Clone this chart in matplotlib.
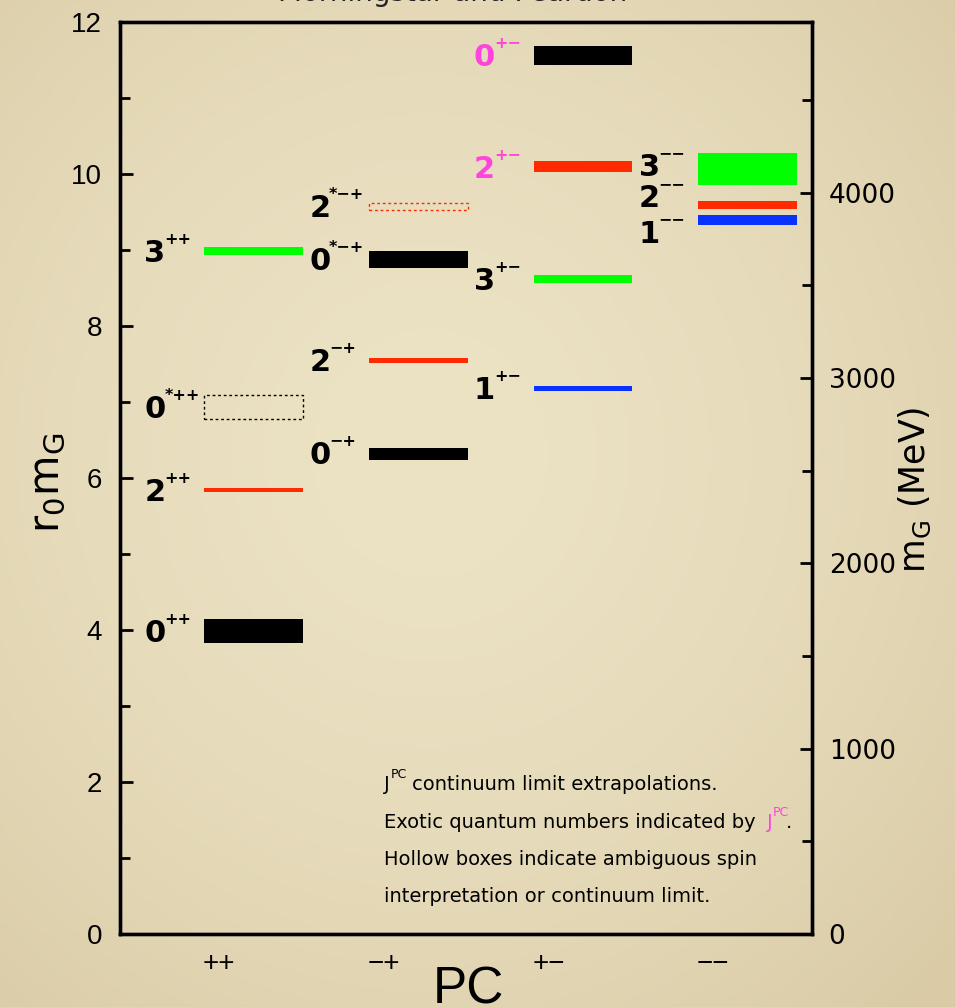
import matplotlib
matplotlib.use("Agg")
import matplotlib.pyplot as plt
import matplotlib.transforms as mtransforms
from matplotlib.ticker import MultipleLocator
import numpy as np

plt.rcParams["font.family"] = ["DejaVu Sans"]
plt.rcParams["mathtext.fontset"] = "dejavusans"

# ---------------- data ----------------
pc_labels = ["++", "\u2212+", "+\u2212", "\u2212\u2212"]

# glueball states: PC column, spin J, extra superscript mark, r0*m and its half-height
state_col = [0, 0, 0, 0, 1, 1, 1, 1, 2, 2, 2, 2, 3, 3, 3]
state_J = ["0", "2", "0", "3", "0", "2", "0", "2", "1", "3", "2", "0", "1", "2", "3"]
state_star = [False, False, True, False, False, False, True, True,
              False, False, False, False, False, False, False]
state_mass = [3.99, 5.84, 6.93, 8.99, 6.32, 7.55, 8.875, 9.57,
              7.18, 8.62, 10.095, 11.56, 9.395, 9.59, 10.06]
state_err = [0.16, 0.022, 0.16, 0.05, 0.08, 0.032, 0.115, 0.05,
             0.035, 0.05, 0.075, 0.125, 0.065, 0.05, 0.21]
state_hollow = [False, False, True, False, False, False, False, True,
                False, False, False, False, False, False, False]
state_exotic = [False, False, False, False, False, False, False, False,
                False, False, True, True, False, False, False]

r0_inv_mev = 410.0          # 1/r0 in MeV, for the right-hand mass axis
mev_ticks = [0, 1000, 2000, 3000, 4000]

note_lines = ["continuum limit extrapolations.",
              "Exotic quantum numbers indicated by",
              "Hollow boxes indicate ambiguous spin",
              "interpretation or continuum limit."]

# ---------------- styling ----------------
spin_colors = {"0": "black", "1": "#0A32FF", "2": "#FF2A00", "3": "#00FF00"}
exotic_color = "#FF44DD"
bar_left = -0.09
bar_width = 0.60
label_dx = -0.452
# per-state label nudges (the -- column labels are spread apart)
label_shift = {12: -0.185, 13: 0.09, 14: 0.02}

W, H = 955, 1007
fig = plt.figure(figsize=(W / 100, H / 100), dpi=100)

# parchment-like background with soft vignette
bg = fig.add_axes([0, 0, 1, 1], zorder=-10)
bg.axis("off")
yy, xx = np.mgrid[0:1:300j, 0:1:300j]
rr = np.clip(np.sqrt((xx - 0.45) ** 2 + (yy - 0.55) ** 2) / 0.75, 0, 1)
c_mid = np.array([236, 227, 197]) / 255
c_edge = np.array([218, 203, 166]) / 255
img = c_mid + (c_edge - c_mid) * (rr ** 1.6)[..., None]
bg.imshow(img, extent=[0, 1, 0, 1], aspect="auto", origin="lower")
bg.set_xlim(0, 1)
bg.set_ylim(0, 1)

L, R, T, B = 120, 812, 22, 934
ax = fig.add_axes([L / W, 1 - B / H, (R - L) / W, (B - T) / H])
ax.set_facecolor("none")
ax.set_xlim(0.4, 4.6)
ax.set_ylim(0, 12)

# ---------------- levels ----------------
for i in range(len(state_mass)):
    x0 = state_col[i] + 1 + bar_left
    c = spin_colors[state_J[i]]
    m, e = state_mass[i], state_err[i]
    if state_hollow[i]:
        ax.bar(x0, 2 * e, width=bar_width, bottom=m - e, align="edge",
               fill=False, edgecolor=c, linewidth=1.0, linestyle=(0, (2, 2)))
    else:
        ax.bar(x0, 2 * e, width=bar_width, bottom=m - e, align="edge",
               color=c, linewidth=0)

sup_tr = mtransforms.offset_copy(ax.transData, fig=fig, x=20, y=14, units="dots")
for i in range(len(state_mass)):
    xl = state_col[i] + 1 + label_dx
    yl = state_mass[i] + label_shift.get(i, -0.03)
    tc = exotic_color if state_exotic[i] else "black"
    pc = pc_labels[state_col[i]]
    sup = ("*" if state_star[i] else "") + pc
    ax.text(xl, yl, state_J[i], fontsize=22, fontweight="bold", color=tc,
            ha="left", va="center")
    ax.text(xl, yl, sup, transform=sup_tr, fontsize=11.5, fontweight="bold",
            color=tc, ha="left", va="center")

# ---------------- axes ----------------
ax.set_xticks([1, 2, 3, 4])
ax.set_xticklabels(pc_labels, fontsize=20, family="Liberation Sans")
ax.tick_params(axis="x", length=0, pad=12)

ax.set_yticks(range(0, 13, 2))
ax.yaxis.set_minor_locator(MultipleLocator(1))
ax.tick_params(axis="y", which="both", direction="in", left=True, right=False,
               width=2, labelsize=20, pad=13)
ax.tick_params(axis="y", which="major", length=9)
ax.tick_params(axis="y", which="minor", length=7)
for lab in ax.get_yticklabels():
    lab.set_family("Liberation Sans")

ax2 = ax.twinx()
ax2.set_ylim(0, 12 * r0_inv_mev)
ax2.set_yticks(mev_ticks)
ax2.yaxis.set_minor_locator(MultipleLocator(500))
ax2.tick_params(axis="y", which="both", direction="in", right=True, left=False,
                width=2, labelsize=19, pad=12)
ax2.tick_params(axis="y", which="major", length=9)
ax2.tick_params(axis="y", which="minor", length=7)

for a in (ax, ax2):
    for s in a.spines.values():
        s.set_linewidth(2.4)
        s.set_color("black")

fig.text(47 / W, 1 - 483 / H, r"$\mathregular{r_0m_G}$", fontsize=30,
         rotation=90, ha="center", va="center")
fig.text(915 / W, 1 - 490 / H, r"$\mathregular{m_G}$ (MeV)", fontsize=25,
         rotation=90, ha="center", va="center")
fig.text(468 / W, 1 - 1004 / H, "PC", fontsize=37, family="Liberation Sans",
         ha="center", va="baseline")
# slide heading, mostly above the top edge
fig.text(0.474, 1 - 1 / H, "Morningstar and Peardon", fontsize=20,
         ha="center", va="baseline", color="#222222")

# ---------------- note block ----------------
nx = (384 - L) / (R - L)
base_px = [790, 828, 865, 902]
ny = [(B - b) / (B - T) for b in base_px]
fs = 14

j1 = ax.text(nx, ny[0], "J", transform=ax.transAxes, fontsize=fs, va="baseline")
p1 = ax.annotate("PC", xy=(1, ny[0]), xycoords=(j1, "axes fraction"),
                 xytext=(0.5, 12), textcoords="offset pixels", fontsize=9,
                 va="baseline", ha="left")
ax.annotate(note_lines[0], xy=(1, ny[0]), xycoords=(p1, "axes fraction"),
            xytext=(6, 0), textcoords="offset pixels", fontsize=fs,
            va="baseline", ha="left")

t2 = ax.text(nx, ny[1], note_lines[1], transform=ax.transAxes, fontsize=fs,
             va="baseline")
j2 = ax.annotate("J", xy=(1, ny[1]), xycoords=(t2, "axes fraction"),
                 xytext=(11, 0), textcoords="offset pixels", fontsize=fs,
                 color=exotic_color, va="baseline", ha="left")
p2 = ax.annotate("PC", xy=(1, ny[1]), xycoords=(j2, "axes fraction"),
                 xytext=(0.5, 12), textcoords="offset pixels", fontsize=9,
                 color=exotic_color, va="baseline", ha="left")
ax.annotate(".", xy=(1, ny[1]), xycoords=(p2, "axes fraction"),
            xytext=(-3, 0), textcoords="offset pixels", fontsize=fs,
            va="baseline", ha="left")

ax.text(nx, ny[2], note_lines[2], transform=ax.transAxes, fontsize=fs,
        va="baseline")
ax.text(nx, ny[3], note_lines[3], transform=ax.transAxes, fontsize=fs,
        va="baseline")

fig.savefig("out.png", dpi=100, facecolor=c_mid)
